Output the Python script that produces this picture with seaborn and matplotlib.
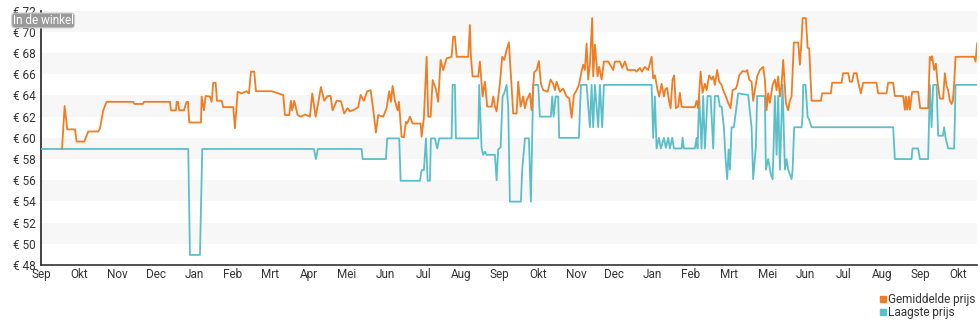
import matplotlib
matplotlib.use("Agg")
import matplotlib.pyplot as plt
from matplotlib.lines import Line2D
import seaborn as sns
import pandas as pd

# Month axis: one tick per label, positions are month-index values
month_labels = ["Sep", "Okt", "Nov", "Dec", "Jan", "Feb", "Mrt", "Apr", "Mei", "Jun",
                "Jul", "Aug", "Sep", "Okt", "Nov", "Dec", "Jan", "Feb", "Mrt", "Mei",
                "Jun", "Jul", "Aug", "Sep", "Okt"]

# Gemiddelde prijs (average price) over time
gem_t = [0.547, 0.617, 0.686, 0.887, 0.931, 1.130, 1.235, 1.497, 1.541, 1.627, 1.716, 2.412,
         2.444, 2.666, 2.692, 3.373, 3.399, 3.530, 3.548, 3.582, 3.616, 3.739, 3.809, 3.844,
         3.878, 4.184, 4.202, 4.262, 4.307, 4.419, 4.464, 4.505, 4.568, 4.602, 4.725, 4.767,
         5.029, 5.073, 5.144, 5.249, 5.379, 5.440, 5.492, 5.578, 5.623, 6.033, 6.164, 6.337,
         6.381, 6.494, 6.538, 6.572, 6.625, 6.714, 6.800, 6.905, 7.036, 7.096, 7.185, 7.253,
         7.323, 7.410, 7.499, 7.577, 7.629, 7.734, 7.847, 7.933, 8.022, 8.082, 8.213, 8.299,
         8.362, 8.449, 8.535, 8.624, 8.710, 8.762, 8.823, 8.953, 9.042, 9.110, 9.155, 9.199,
         9.259, 9.330, 9.364, 9.435, 9.495, 9.547, 9.581, 9.652, 9.723, 9.932, 9.958, 10.018,
         10.089, 10.131, 10.194, 10.246, 10.332, 10.392, 10.455, 10.523, 10.612, 10.743,
         10.785, 10.829, 10.874, 11.177, 11.222, 11.248, 11.292, 11.439, 11.483, 11.554,
         11.614, 11.675, 11.790, 11.832, 11.876, 11.920, 12.007, 12.067, 12.119, 12.182,
         12.242, 12.295, 12.355, 12.444, 12.486, 12.548, 12.616, 12.661, 12.705, 12.792,
         12.836, 12.904, 12.967, 13.027, 13.080, 13.140, 13.255, 13.333, 13.401, 13.446,
         13.490, 13.576, 13.663, 13.752, 13.820, 13.883, 13.943, 14.014, 14.074, 14.145,
         14.186, 14.231, 14.275, 14.317, 14.362, 14.422, 14.448, 14.493, 14.563, 14.605,
         14.668, 14.728, 14.841, 14.971, 15.016, 15.147, 15.207, 15.278, 15.348, 15.539,
         15.583, 15.670, 15.722, 15.801, 15.887, 15.976, 16.018, 16.062, 16.133, 16.175,
         16.237, 16.298, 16.337, 16.384, 16.428, 16.473, 16.525, 16.567, 16.612, 16.672,
         16.716, 16.761, 16.821, 17.109, 17.153, 17.195, 17.258, 17.310, 17.370, 17.415,
         17.483, 17.546, 17.588, 17.632, 17.692, 17.745, 17.808, 17.849, 17.920, 17.980,
         18.043, 18.095, 18.182, 18.216, 18.268, 18.357, 18.443, 18.477, 18.530, 18.592,
         18.634, 18.678, 18.739, 18.809, 18.896, 18.940, 18.985, 19.027, 19.071, 19.142,
         19.202, 19.247, 19.289, 19.333, 19.377, 19.419, 19.490, 19.550, 19.595, 19.639,
         19.699, 19.812, 19.856, 19.901, 19.927, 20.013, 20.058, 20.100, 20.162, 20.405,
         20.440, 20.667, 20.701, 20.947, 20.989, 21.120, 21.164, 21.224, 21.268, 21.339,
         21.380, 21.452, 21.512, 21.863, 21.904, 22.124, 22.166, 22.296, 22.341, 22.558,
         22.603, 22.629, 22.663, 22.707, 22.734, 22.794, 22.951, 23.004, 23.213, 23.231,
         23.257, 23.302, 23.317, 23.370, 23.414, 23.458, 23.519, 23.605, 23.649, 23.694,
         23.736, 23.780, 23.825, 23.859, 23.893, 23.930, 24.417, 24.453, 24.495]
gem_v = [58.95, 63.0, 60.8, 60.8, 59.65, 59.65, 60.6, 60.6, 60.9, 62.6, 63.4, 63.4,
         63.2, 63.2, 63.4, 63.4, 62.6, 62.6, 63.4, 63.4, 62.6, 62.6, 63.4, 63.4,
         61.45, 61.45, 63.9, 62.6, 63.95, 63.9, 63.4, 65.2, 65.2, 63.5, 63.5, 62.9,
         62.9, 60.9, 64.35, 64.2, 64.4, 64.2, 66.25, 66.25, 64.4, 64.4, 64.25, 64.05,
         62.15, 62.15, 63.5, 62.6, 63.5, 62.15, 62.0, 62.2, 62.0, 64.2, 62.0, 63.3,
         64.8, 63.5, 63.95, 63.95, 62.6, 63.5, 63.45, 62.3, 62.8, 62.5, 62.7, 62.9,
         64.05, 63.5, 64.4, 64.5, 62.15, 60.5, 62.15, 62.0, 62.8, 64.4, 63.4, 64.9,
         63.5, 62.6, 63.4, 60.1, 60.05, 61.5, 61.35, 62.0, 61.35, 61.35, 60.1, 61.9,
         67.65, 62.0, 62.0, 65.45, 64.6, 63.4, 67.35, 66.4, 67.5, 67.65,
         69.55, 69.55, 67.65, 67.65, 70.65, 67.65, 65.8, 65.8, 67.2, 63.9,
         65.3, 62.95, 62.95, 63.9, 62.95, 62.5, 65.15, 67.65, 67.35, 68.3,
         69.0, 65.8, 62.3, 62.3, 65.3, 62.95, 63.9, 62.8, 63.5, 64.2,
         62.6, 66.2, 66.4, 67.25, 65.1, 64.5, 64.35, 65.5, 65.1, 64.5,
         65.3, 64.35, 64.65, 63.9, 63.75, 61.9, 64.05, 64.5, 65.0, 66.3,
         66.9, 66.4, 68.9, 65.5, 67.0, 71.3, 65.8, 68.8, 65.8, 66.7,
         65.5, 67.2, 67.2, 66.4, 67.2, 67.2, 66.6, 67.2, 66.4, 66.4,
         66.25, 66.6, 66.25, 66.7, 66.4, 67.65, 65.6, 65.9, 64.5, 63.9,
         65.1, 63.9, 64.6, 64.7, 63.6, 62.8, 65.5, 65.9, 62.8, 62.95,
         64.25, 62.95, 62.9, 62.9, 63.5, 62.8, 66.25, 64.25, 65.1, 64.5,
         65.9, 65.5, 65.8, 65.0, 66.4, 65.3, 65.0, 64.5, 63.9, 63.3,
         62.8, 64.5, 64.65, 65.0, 65.9, 66.3, 66.25, 66.4, 65.5, 65.3,
         63.5, 64.5, 65.8, 66.4, 66.7, 65.5, 62.6, 64.2, 63.3, 65.0,
         65.5, 64.5, 65.8, 63.9, 65.0, 67.35, 63.3, 62.6, 63.5, 63.9,
         69.0, 69.0, 66.9, 69.3, 71.3, 71.3, 68.5, 68.45, 63.5, 63.5,
         64.2, 64.2, 65.2, 65.2, 66.1, 66.1, 65.3, 65.3, 66.1, 66.1,
         65.3, 64.2, 65.2, 65.2, 64.2, 64.2, 65.2, 65.2, 63.95, 63.95,
         62.65, 63.9, 62.65, 63.9, 62.65, 64.35, 64.35, 62.8, 62.8, 65.0,
         67.65, 67.35, 67.7, 66.4, 67.0, 65.3, 63.7, 63.7, 66.1, 64.9,
         64.5, 63.5, 63.2, 63.5, 65.1, 67.65, 67.65, 67.2, 68.95]

# Laagste prijs (lowest price) over time
laag_t = [0.0, 3.851, 3.896, 4.158, 4.218, 7.140, 7.193, 7.245, 8.388, 8.415, 9.024, 9.058,
          9.372, 9.409, 9.914, 9.958, 10.018, 10.071, 10.115, 10.175, 10.201, 10.306, 10.366,
          10.419, 10.743, 10.769, 10.829, 10.855, 11.439, 11.465, 11.528, 11.570, 11.614,
          11.659, 11.876, 11.920, 11.962, 12.025, 12.077, 12.119, 12.182, 12.224, 12.268,
          12.556, 12.590, 12.661, 12.766, 12.818, 12.879, 13.009, 13.053, 13.341, 13.375,
          13.412, 13.464, 13.532, 13.558, 14.074, 14.126, 14.275, 14.362, 14.406, 14.448,
          14.493, 14.579, 14.623, 14.683, 14.728, 15.976, 16.018, 16.062, 16.107, 16.167,
          16.219, 16.298, 16.350, 16.411, 16.455, 16.515, 16.560, 16.761, 16.787, 16.821,
          17.109, 17.153, 17.179, 17.221, 17.284, 17.326, 17.370, 17.415, 17.441, 17.520,
          17.588, 17.632, 17.718, 17.763, 17.808, 17.868, 17.912, 17.954, 17.991, 18.025,
          18.069, 18.129, 18.242, 18.503, 18.592, 18.634, 18.705, 18.739, 18.940, 18.967,
          19.027, 19.098, 19.142, 19.176, 19.202, 19.247, 19.289, 19.333, 19.403, 19.464,
          19.508, 19.550, 19.639, 19.665, 19.707, 19.901, 19.927, 19.943, 20.005, 20.058,
          20.100, 20.162, 22.297, 22.341, 22.778, 22.804, 22.951, 22.996, 23.213, 23.257,
          23.302, 23.344, 23.433, 23.475, 23.598, 23.632, 23.669, 23.736, 23.893, 23.930,
          24.495]
laag_v = [58.95, 58.95, 48.95, 48.95, 58.95, 58.95, 58.0, 58.95, 58.95, 58.0, 58.0, 59.95,
          59.95, 55.95, 55.95, 56.95, 56.95, 59.95, 55.95, 55.95, 59.95, 59.95, 59.0,
          59.95, 59.95, 65.0, 65.0, 59.95, 59.95, 65.0, 59.0, 58.4, 58.7,
          58.4, 58.4, 56.0, 58.9, 59.1, 63.9, 64.2, 65.0, 62.95, 53.98,
          53.98, 56.95, 59.95, 59.95, 53.98, 65.0, 65.0, 62.0, 62.0, 63.9,
          62.0, 63.9, 63.9, 60.0, 60.0, 65.0, 65.0, 61.0, 65.0, 61.0,
          65.0, 61.0, 65.0, 61.0, 65.0, 65.0, 60.0, 63.9, 59.0, 60.0,
          59.0, 60.0, 59.05, 60.0, 59.0, 60.0, 59.0, 59.0, 60.0, 59.0,
          59.0, 60.0, 59.0, 63.95, 59.0, 63.95, 59.0, 62.0, 63.95, 63.95,
          59.0, 63.95, 63.95, 62.95, 62.95, 61.0, 58.0, 56.1, 58.9, 57.0,
          61.0, 61.0, 64.2, 64.05, 61.0, 56.1, 59.2, 63.95, 63.95, 57.0,
          58.0, 56.5, 56.1, 60.0, 63.95, 58.4, 63.95, 57.0, 65.0, 57.0,
          58.0, 57.0, 56.1, 57.0, 61.0, 61.0, 62.0, 65.0, 65.0, 62.0,
          61.7, 61.0, 61.0, 58.0, 58.0, 59.0, 59.0, 58.0, 58.0, 65.0,
          61.0, 65.0, 65.0, 60.2, 60.2, 61.0, 60.0, 59.0, 59.0, 65.0,
          65.0]

ORANGE = "#ef7d24"
TEAL = "#5bbfca"

sns.set_theme(style="white")
plt.rcParams["font.family"] = ["Roboto", "DejaVu Sans"]

gem = pd.DataFrame({"maand": gem_t, "prijs": gem_v})
laag = pd.DataFrame({"maand": laag_t, "prijs": laag_v})

fig = plt.figure(figsize=(9.8, 3.25), dpi=100)
ax = fig.add_axes([0.0419, 0.1846, 0.955, 0.7825])

# Alternating pale bands behind the lines
for lo in range(50, 72, 4):
    ax.axhspan(lo, lo + 2, color="#f7f7f7", zorder=0, lw=0)

sns.lineplot(data=laag, x="maand", y="prijs", ax=ax, color=TEAL, lw=1.3,
             estimator=None, sort=False, zorder=3)
sns.lineplot(data=gem, x="maand", y="prijs", ax=ax, color=ORANGE, lw=1.3,
             estimator=None, sort=False, zorder=4)

ax.set_xlim(0, 24.49)
ax.set_ylim(48, 72)
ax.set_xlabel("")
ax.set_ylabel("")

ax.set_xticks(range(len(month_labels)))
ax.set_xticklabels(month_labels)
yt = list(range(48, 73, 2))
ax.set_yticks(yt)
ax.set_yticklabels([f"€ {v}" for v in yt])

ax.tick_params(axis="x", direction="inout", length=5, width=0.8, color="#333333",
               labelsize=8.5, labelcolor="#333333", pad=0)
ax.tick_params(axis="y", direction="out", length=3, width=0.8, color="#333333",
               labelsize=8.5, labelcolor="#333333", pad=1)

for s in ("top", "right"):
    ax.spines[s].set_visible(False)
ax.spines["bottom"].set_color("#333333")
ax.spines["bottom"].set_linewidth(1.2)
ax.spines["left"].set_color("#222222")
ax.spines["left"].set_linestyle((0, (1, 1)))
ax.spines["left"].set_linewidth(1.2)
ax.grid(False)

# Store badge in the top-left corner, sitting over the upper tick labels
fig.text(0.044, 0.937, "In de winkel", ha="center", va="center", fontsize=8.5,
         color="white", zorder=10,
         bbox=dict(boxstyle="round,pad=0.08,rounding_size=0.3", fc="#9a9a9a",
                   ec="#cfcfcf", lw=0.8))

handles = [Line2D([], [], ls="none", marker="s", ms=5, color=ORANGE),
           Line2D([], [], ls="none", marker="s", ms=5, color=TEAL)]
fig.legend(handles, ["Gemiddelde prijs", "Laagste prijs"], loc="upper right",
           bbox_to_anchor=(1.003, 0.12), frameon=False, fontsize=8.5,
           handlelength=0.6, handletextpad=0.15, labelspacing=0.0,
           borderpad=0.1, labelcolor="#333333")

fig.savefig("out.png", dpi=100)
